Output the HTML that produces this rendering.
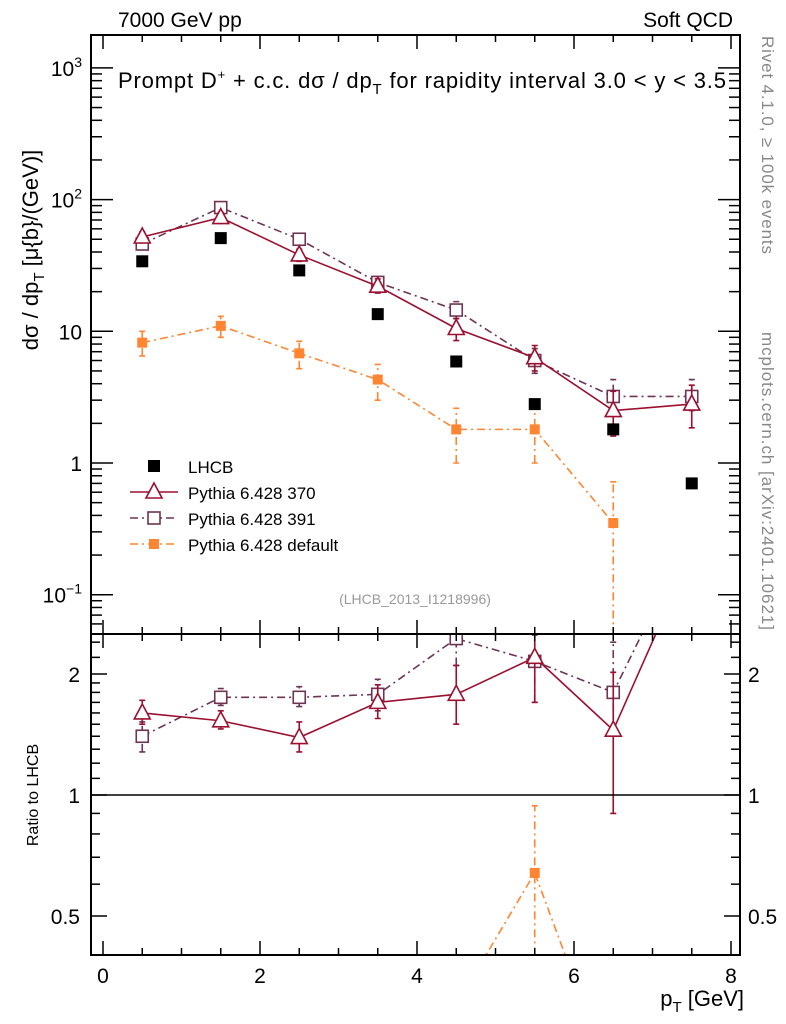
<!DOCTYPE html>
<html><head><meta charset="utf-8"><style>
body{margin:0;background:#fff;width:786px;height:1024px;overflow:hidden}
svg{display:block;overflow:hidden}
svg text{font-family:"Liberation Sans",sans-serif}
</style></head><body>
<svg id="c" width="786" height="1024" xmlns="http://www.w3.org/2000/svg"></svg>
<script>
const xs=[0.5,1.5,2.5,3.5,4.5,5.5,6.5,7.5];
const lhcb=[34,51,29,13.5,5.9,2.8,1.8,0.7];
const p370=[52,73,38,22,10.5,6.3,2.5,2.8];
const p370lo=[47,66,34,19.5,8.5,5.0,1.6,1.85];
const p370hi=[57,80,42,25,12.5,7.8,3.5,3.9];
const p391=[46,87,50,23.5,14.5,6,3.2,3.2];
const p391lo=[42,80,46,21,12.5,4.8,2.5,2.5];
const p391hi=[50,94,54,26,16.8,7.4,4.3,4.3];
const pdef=[8.2,11,6.8,4.3,1.8,1.8,0.35];
const pdeflo=[6.5,9,5.2,3.0,1.0,1.0,0.01];
const pdefhi=[10,13,8.4,5.6,2.6,2.6,0.72];
const r370=[1.6,1.53,1.39,1.7,1.78,2.2,1.45,4.0];
const r370lo=[1.5,1.46,1.28,1.55,1.5,1.7,0.9,3.0];
const r370hi=[1.72,1.62,1.52,1.88,2.1,2.7,2.02,5.0];
const r391=[1.4,1.75,1.75,1.78,2.45,2.15,1.8,4.5];
const r391lo=[1.28,1.67,1.66,1.62,2.1,1.7,1.45,3.5];
const r391hi=[1.52,1.84,1.86,1.94,2.8,2.5,2.4,5.5];
const rdef=[0.24,0.32,0.23,0.32,0.3,0.64,0.19];
const rdeflo=[0.2,0.28,0.19,0.25,0.17,0.36,0.01];
const rdefhi=[0.28,0.36,0.27,0.38,0.38,0.94,0.38];
const xticks=[0,2,4,6,8];

const NS="http://www.w3.org/2000/svg",svg=document.getElementById('c');
const L=91,R=740,T=35,MB=634,RB=955;
const X=v=>103+v*(731-103)/8;
const Y=v=>463-Math.log10(v)*131.7;
const YR=v=>795-Math.log2(v)*121;
function mk(t,a,p){const e=document.createElementNS(NS,t);for(const k in a)e.setAttribute(k,a[k]);(p||svg).appendChild(e);return e;}
function txt(x,y,s,a,name,p){const e=mk('text',Object.assign({x:x,y:y,'font-size':20},a||{}),p);e.innerHTML=s;return e;}
const defs=mk('defs',{});
const c1=mk('clipPath',{id:'cm'},defs);mk('rect',{x:L,y:T,width:R-L,height:MB-T},c1);
const c2=mk('clipPath',{id:'cr'},defs);mk('rect',{x:L,y:MB,width:R-L,height:RB-MB},c2);
const gm=mk('g',{'clip-path':'url(#cm)'});
const gr=mk('g',{'clip-path':'url(#cr)'});

const f1=mk('rect',{x:L,y:T,width:R-L,height:MB-T,fill:'none',stroke:'#000','stroke-width':2});

const f2=mk('rect',{x:L,y:MB,width:R-L,height:RB-MB,fill:'none',stroke:'#000','stroke-width':2});

for(let v=0;v<=8.01;v+=0.5){const maj=Math.abs(v-Math.round(v/2)*2)<0.01;const len=maj?14:7;const xx=X(v);
 for(const [y0,d] of [[T,1],[MB,-1],[MB,1],[RB,-1]]) mk('line',{x1:xx,x2:xx,y1:y0,y2:y0+d*len,stroke:'#000','stroke-width':1.5});}
xticks.forEach(v=>txt(X(v),983,v,{'text-anchor':'middle','font-size':21},'x-tick-label'));
txt(744,1006,'p<tspan font-size="15" dy="6">T</tspan><tspan dy="-6"> [GeV]</tspan>',{'text-anchor':'end','font-size':22},'x-axis-title');
for(let e=-2;e<=3;e++)for(let m=1;m<10;m++){const v=m*Math.pow(10,e);const y=Y(v);if(y<T||y>MB)continue;const len=m==1?22:11;
 mk('line',{x1:L,x2:L+len,y1:y,y2:y,stroke:'#000','stroke-width':1.5});mk('line',{x1:R,x2:R-len,y1:y,y2:y,stroke:'#000','stroke-width':1.5});}
[[1e3,'10<tspan font-size="14" dy="-9">3</tspan>'],[1e2,'10<tspan font-size="14" dy="-9">2</tspan>'],[10,'10'],[1,'1'],[0.1,'10<tspan font-size="14" dy="-9">−1</tspan>']].forEach(([v,s])=>{
 txt(82,Y(v)+8,s,{'text-anchor':'end','font-size':21},'y-tick-label');});
txt(0,0,'dσ / dp<tspan font-size="15" dy="6">T</tspan><tspan dy="-6"> [μ{b}/(GeV)]</tspan>',{'font-size':22,transform:'translate(38,250) rotate(-90)','text-anchor':'middle'},'y-axis-title');
[0.4,0.5,0.6,0.7,0.8,0.9,1,2,1.1,1.2,1.3,1.4,1.5,1.6,1.7,1.8,1.9,2.2,2.4].forEach(v=>{const y=YR(v);if(y<MB||y>RB)return;const len=(v==1||v==2||v==0.5)?16:9;
 mk('line',{x1:L,x2:L+len,y1:y,y2:y,stroke:'#000','stroke-width':1.5});mk('line',{x1:R,x2:R-len,y1:y,y2:y,stroke:'#000','stroke-width':1.5});});
[[2,'2'],[1,'1'],[0.5,'0.5']].forEach(([v,s])=>{txt(80,YR(v)+8,s,{'text-anchor':'end','font-size':21},'ratio-tick-label');txt(748,YR(v)+8,s,{'font-size':21},'ratio-tick-label-right');});
txt(0,0,'Ratio to LHCB',{'font-size':16,transform:'translate(38,795) rotate(-90)','text-anchor':'middle'},'ratio-axis-title');
const one=mk('line',{x1:L,x2:R,y1:YR(1),y2:YR(1),stroke:'#000','stroke-width':1.5});
txt(118,27,'7000 GeV pp',{'font-size':21},'energy-label');
txt(733,27,'Soft QCD',{'font-size':21,'text-anchor':'end'},'process-label');
txt(118,88,'Prompt D<tspan font-size="13" dy="-9">+</tspan><tspan dy="9"> + c.c.  dσ / dp</tspan><tspan font-size="15" dy="6">T</tspan><tspan dy="-6"> for rapidity interval 3.0 &lt; y &lt; 3.5</tspan>',{'font-size':22,textLength:608,lengthAdjust:'spacing'},'plot-title');
txt(0,0,'Rivet 4.1.0, ≥ 100k events',{'font-size':17,fill:'#888',textLength:218,transform:'translate(762,36) rotate(90)'},'rivet-label');
txt(0,0,'mcplots.cern.ch [arXiv:2401.10621]',{'font-size':17,fill:'#888',textLength:298,transform:'translate(762,332) rotate(90)'},'mcplots-label');
txt(415,604,'(LHCB_2013_I1218996)',{'font-size':14,fill:'#999','text-anchor':'middle'},'analysis-id');

function marker(g,type,x,y,col,s){
 if(type=='tri')return mk('path',{d:`M${x},${y-9}L${x+8},${y+6}L${x-8},${y+6}Z`,fill:'#fff',stroke:col,'stroke-width':1.6},g);
 if(type=='sq')return mk('rect',{x:x-6,y:y-6,width:12,height:12,fill:'#fff',stroke:col,'stroke-width':1.6},g);
 return mk('rect',{x:x-s/2,y:y-s/2,width:s,height:s,fill:col},g);}
function series(g,Yf,vals,lo,hi,col,dash,type,name,size){
 const n=vals.length;let d='';for(let i=0;i<n;i++)d+=(i?'L':'M')+X(xs[i])+','+Yf(vals[i]);
 const p=mk('path',{d:d,fill:'none',stroke:col,'stroke-width':1.6,'stroke-dasharray':dash},g);
 for(let i=0;i<n;i++){const x=X(xs[i]);
  if(lo){const e=mk('path',{d:`M${x},${Yf(lo[i])}L${x},${Yf(hi[i])}M${x-3},${Yf(lo[i])}h6M${x-3},${Yf(hi[i])}h6`,stroke:col,'stroke-width':1.6,'stroke-dasharray':dash,fill:'none'},g);}
  const m=marker(g,type,x,Yf(vals[i]),col,size||10);}}
const C370='#9b1030',C391='#6e3553',CDEF='#ff8533';
series(gm,Y,pdef,pdeflo,pdefhi,CDEF,'8,4,2,4','fill','pythia-default',10);
series(gm,Y,p391,p391lo,p391hi,C391,'8,4,2,4','sq','pythia-391');
series(gm,Y,p370,p370lo,p370hi,C370,'','tri','pythia-370');
lhcb.forEach((v,i)=>{const m=marker(gm,'fill',X(xs[i]),Y(v),'#000',12);});
series(gr,YR,rdef,rdeflo,rdefhi,CDEF,'8,4,2,4','fill','ratio-pythia-default',10);
series(gr,YR,r391,r391lo,r391hi,C391,'8,4,2,4','sq','ratio-pythia-391');
series(gr,YR,r370,r370lo,r370hi,C370,'','tri','ratio-pythia-370');
const lg=mk('g',{});
const items=[['LHCB','#000','','lhcbsq'],['Pythia 6.428 370',C370,'','tri'],['Pythia 6.428 391',C391,'8,4,2,4','sq'],['Pythia 6.428 default',CDEF,'8,4,2,4','fill']];
items.forEach((it,i)=>{const y=466+i*26;const g=mk('g',{},lg);
 if(it[3]=='lhcbsq')marker(g,'fill',154,y,'#000',12);else{mk('line',{x1:130,x2:178,y1:y,y2:y,stroke:it[1],'stroke-width':1.6,'stroke-dasharray':it[2]},g);marker(g,it[3],154,y,it[1],10);}
 txt(188,y+7,it[0],{'font-size':17},'legend-label',g);});
</script>
</body></html>
